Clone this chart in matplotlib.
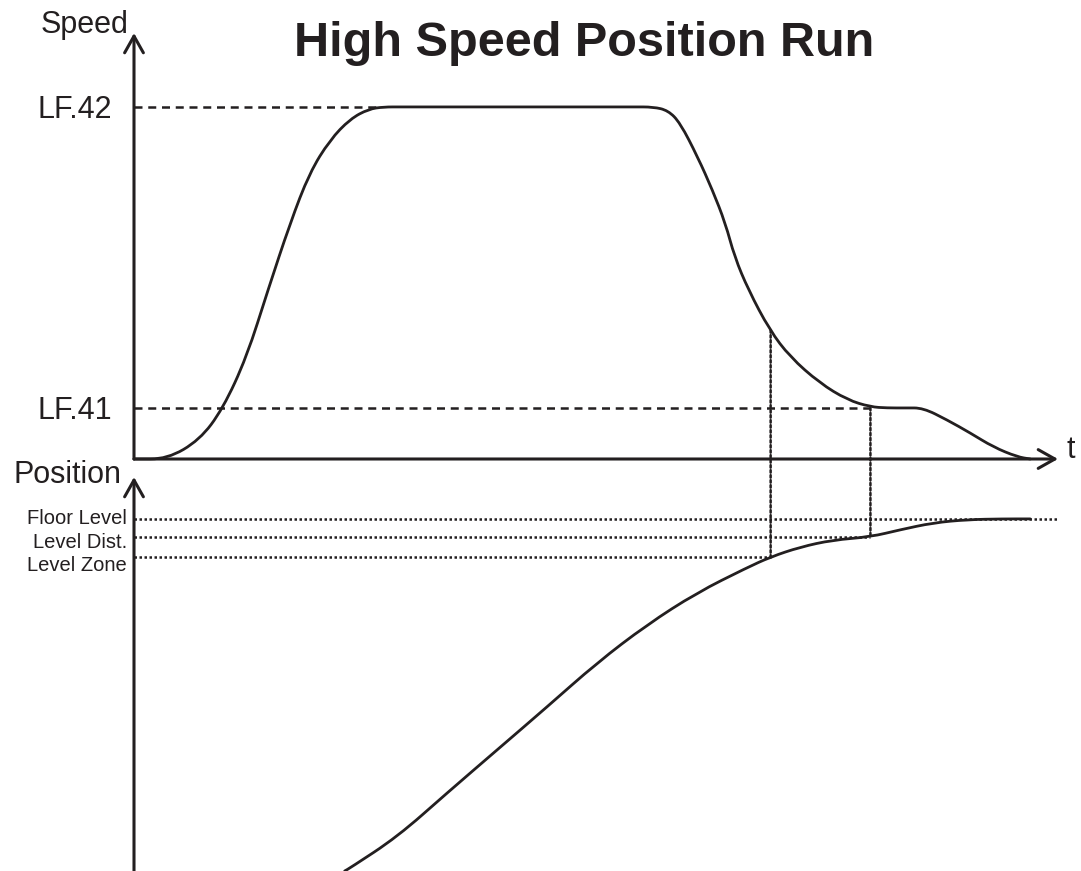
import matplotlib
matplotlib.use("Agg")
import matplotlib.pyplot as plt
from matplotlib.patches import ConnectionPatch, PathPatch
from matplotlib.path import Path

plt.rcParams['font.family'] = ['Liberation Sans', 'DejaVu Sans']

# speed profile: time (0-100) vs speed (% of LF.42)
speed_t = [0, 3.6, 7.1, 9.6, 12.2, 14.5, 16.9, 19.0, 21.2, 23.4, 25.4, 27.0, 29.0,
           54.0, 56.2, 57.8, 59.1, 61.0, 62.6, 64.0, 65.0, 66.5, 68.8, 71.0, 74.2, 77.2,
           79.7, 81.5, 83.5, 85.4, 88.0, 90.5, 93.0, 95.6, 97.0]
speed_v = [0, 0, 5.4, 14.2, 29.0, 48.0, 67.0, 81.3, 90.6, 96.6, 99.4, 100, 100,
           100, 100, 99.0, 95.5, 85.8, 76.4, 67.0, 57.4, 48.0, 36.6, 29.0, 21.6, 16.8,
           14.8, 14.5, 14.5, 14.5, 11.1, 7.4, 3.4, 0.6, 0]

# position profile: time vs position (% of floor level)
pos_t = [22.8, 23.4, 28.5, 33.9, 39.3, 44.7, 50.1, 55.5, 60.9, 66.3, 68.9,
         72.1, 75.6, 79.7, 82.9, 86.5, 90.2, 94.0, 97.0]
pos_p = [0, 0.9, 9.7, 22.2, 34.4, 46.6, 59.1, 69.9, 79.0, 86.1, 89.2,
         92.0, 94.0, 94.9, 96.9, 98.9, 99.8, 100, 100]

lf42 = 100
lf41 = 14.5
speed_ticks = ["LF.41", "LF.42"]

floor_level = 100
level_dist = 94.9
level_zone = 89.2
pos_labels = ["Floor Level", "Level Dist.", "Level Zone"]

t_plateau = 26.3  # reaches LF.42
t_zone = 68.9     # enters level zone
t_dist = 79.7     # reaches level distance / creep speed
speed_at_zone = 36.6

ink = "#231f20"


def smooth(xs, ys):
    # quadratic bezier through segment midpoints, sample points as controls
    verts = [(xs[0], ys[0]), ((xs[0] + xs[1]) / 2, (ys[0] + ys[1]) / 2)]
    codes = [Path.MOVETO, Path.LINETO]
    for i in range(1, len(xs) - 1):
        verts += [(xs[i], ys[i]), ((xs[i] + xs[i + 1]) / 2, (ys[i] + ys[i + 1]) / 2)]
        codes += [Path.CURVE3, Path.CURVE3]
    verts.append((xs[-1], ys[-1]))
    codes.append(Path.LINETO)
    return Path(verts, codes)


W, H = 1081, 871
fig = plt.figure(figsize=(W / 100, H / 100), dpi=100)

ax_s = fig.add_axes([134 / W, (H - 459) / H, (1058 - 134) / W, (459 - 33) / H])
ax_p = fig.add_axes([134 / W, 0, (1058 - 134) / W, (H - 477) / H])

ax_s.set_xlim(0, 100)
ax_s.set_ylim(0, 121)
ax_p.set_xlim(0, 100)
ax_p.set_ylim(0, 111.9)

for ax in (ax_s, ax_p):
    for sp in ax.spines.values():
        sp.set_visible(False)
    ax.set_xticks([])
    ax.patch.set_alpha(0)

arrow = dict(arrowstyle="->,head_length=0.8,head_width=0.45", lw=2.2,
             color=ink, mutation_scale=15, shrinkA=0, shrinkB=0)
ax_s.annotate("", xy=(0, 1), xytext=(0, 0), xycoords="axes fraction", arrowprops=arrow)
ax_s.annotate("", xy=(1, 0), xytext=(0, 0), xycoords="axes fraction", arrowprops=arrow)
ax_p.annotate("", xy=(0, 1), xytext=(0, -0.01), xycoords="axes fraction", arrowprops=arrow)

# curves
ax_s.add_patch(PathPatch(smooth(speed_t, speed_v), fill=False, ec=ink, lw=2.0,
                         capstyle="round", joinstyle="round", clip_on=False))
ax_p.add_patch(PathPatch(smooth(pos_t, pos_p), fill=False, ec=ink, lw=2.0,
                         capstyle="round", joinstyle="round", clip_on=False))

# speed reference levels
dash = (0, (3.2, 2.3))
ax_s.plot([0, t_plateau], [lf42, lf42], color=ink, lw=1.8, ls=dash)
ax_s.plot([0, t_dist], [lf41, lf41], color=ink, lw=1.8, ls=dash)

# position reference levels
dot = (0, (1, 1))
ax_p.plot([0, 100], [floor_level, floor_level], color=ink, lw=1.8, ls=dot, clip_on=False)
ax_p.plot([0, t_dist], [level_dist, level_dist], color=ink, lw=1.8, ls=dot)
ax_p.plot([0, t_zone], [level_zone, level_zone], color=ink, lw=1.8, ls=dot)

# vertical links between speed and position
for t0, v0, p0 in [(t_zone, speed_at_zone, level_zone), (t_dist, lf41, level_dist)]:
    con = ConnectionPatch(xyA=(t0, v0), coordsA=ax_s.transData,
                          xyB=(t0, p0), coordsB=ax_p.transData,
                          color=ink, lw=1.8, ls=dot)
    fig.add_artist(con)

ax_s.set_yticks([lf41, lf42], speed_ticks)
ax_s.tick_params(axis="y", length=0, pad=16, labelsize=22, labelcolor=ink)
ax_p.set_yticks([])

# position level labels sit slightly below their lines
for lvl, lab, dy in zip([floor_level, level_dist, level_zone], pos_labels, [0, -4, -6]):
    ax_p.annotate(lab, xy=(0, lvl), xycoords=("axes fraction", "data"),
                  xytext=(-5, dy), textcoords="offset points",
                  ha="right", va="center", fontsize=14.5, color=ink)

ax_s.annotate("Speed", xy=(0, 1), xycoords="axes fraction", xytext=(-4, 0),
              textcoords="offset points", ha="right", va="baseline", fontsize=22, color=ink)
ax_p.annotate("Position", xy=(0, 1), xycoords="axes fraction", xytext=(-9, -4.5),
              textcoords="offset points", ha="right", va="baseline", fontsize=22, color=ink)
ax_s.annotate("t", xy=(1, 0), xycoords="axes fraction", xytext=(6, 1),
              textcoords="offset points", ha="left", va="baseline", fontsize=22, color=ink)

fig.text(584 / W, (H - 56) / H, "High Speed Position Run", ha="center", va="baseline",
         fontsize=35, fontweight="bold", color=ink)

fig.savefig("out.png", dpi=100)
